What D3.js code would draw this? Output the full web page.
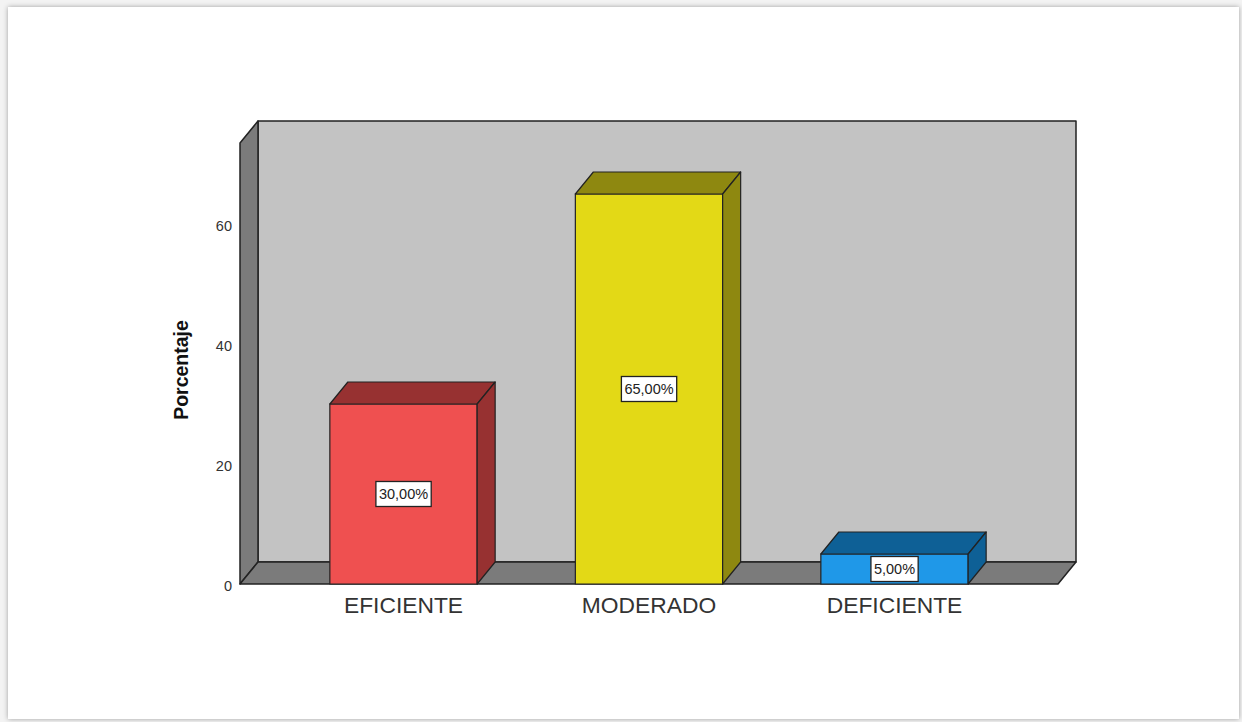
<!DOCTYPE html>
<html>
<head>
<meta charset="utf-8">
<script src="https://cdn.jsdelivr.net/npm/d3@7"></script>
<style>
  body { margin: 0; background: #f3f3f3; }
  svg { display: block; font-family: "Liberation Sans", Arial, sans-serif; }
</style>
</head>
<body>
<svg id="chart" width="1242" height="722"></svg>
<script>
// data
const categories = ["EFICIENTE", "MODERADO", "DEFICIENTE"];
const percentages = [30, 65, 5];
const valueLabels = ["30,00%", "65,00%", "5,00%"];
const yTicks = [0, 20, 40, 60];
const frontColors = ["#ef5050", "#e3d916", "#1f98e8"];
const shadeColors = ["#973131", "#8e8810", "#0e6096"];

const svg = d3.select("#chart");

// card with soft shadow
const defs = svg.append("defs");
const f = defs.append("filter").attr("id", "shadow")
    .attr("x", "-5%").attr("y", "-5%").attr("width", "110%").attr("height", "110%");
f.append("feDropShadow").attr("dx", 0).attr("dy", 0).attr("stdDeviation", 2.5)
    .attr("flood-color", "#000").attr("flood-opacity", 0.35);

svg.append("rect")
    .attr("x", 8).attr("y", 7).attr("width", 1231).attr("height", 712)
    .attr("fill", "#fff")
    .attr("filter", "url(#shadow)");

// geometry
const depthX = 18, depthY = 22;
const floorLeft = 240, floorRight = 1058;

const y = d3.scaleLinear().domain([0, 73.5]).range([584, 143]);
const x = d3.scaleBand()
    .domain(categories)
    .range([280.75, 1017.25])
    .paddingInner(0.4)
    .paddingOuter(0.2);

const edge = "#222";
const wallFill = "#c3c3c3";
const sideFill = "#7b7b7b";

const poly = pts => "M" + pts.map(p => p.join(",")).join("L") + "Z";

const y0 = y(0), yTop = y(73.5);

// back wall
svg.append("path")
    .attr("d", poly([[floorLeft + depthX, yTop - depthY], [floorRight + depthX, yTop - depthY],
                     [floorRight + depthX, y0 - depthY], [floorLeft + depthX, y0 - depthY]]))
    .attr("fill", wallFill).attr("stroke", edge).attr("stroke-width", 1.5)
    .attr("stroke-linejoin", "round");

// left side wall
svg.append("path")
    .attr("d", poly([[floorLeft, yTop], [floorLeft + depthX, yTop - depthY],
                     [floorLeft + depthX, y0 - depthY], [floorLeft, y0]]))
    .attr("fill", sideFill).attr("stroke", edge).attr("stroke-width", 1.5)
    .attr("stroke-linejoin", "round");

// floor
svg.append("path")
    .attr("d", poly([[floorLeft, y0], [floorLeft + depthX, y0 - depthY],
                     [floorRight + depthX, y0 - depthY], [floorRight, y0]]))
    .attr("fill", sideFill).attr("stroke", edge).attr("stroke-width", 1.5)
    .attr("stroke-linejoin", "round");

// y ticks
svg.append("g").selectAll("text")
    .data(yTicks)
    .join("text")
    .attr("x", 232)
    .attr("y", d => y(d) + 3)
    .attr("text-anchor", "end")
    .attr("dominant-baseline", "middle")
    .attr("font-size", 14.5)
    .attr("fill", "#333")
    .text(d => d);

// y label
svg.append("text")
    .attr("transform", "translate(188,370) rotate(-90)")
    .attr("text-anchor", "middle")
    .attr("font-size", 19.5)
    .attr("font-weight", "bold")
    .attr("fill", "#111")
    .text("Porcentaje");

// bars
const bars = svg.append("g").selectAll("g")
    .data(categories.map((c, i) => ({ c, v: percentages[i], label: valueLabels[i], i })))
    .join("g");

bars.each(function(d) {
    const g = d3.select(this);
    const x0 = x(d.c), x1 = x(d.c) + x.bandwidth();
    const yv = y(d.v);
    // front face
    g.append("path")
        .attr("d", poly([[x0, yv], [x1, yv], [x1, y0], [x0, y0]]))
        .attr("fill", frontColors[d.i]).attr("stroke", edge).attr("stroke-width", 1.2);
    // top face
    g.append("path")
        .attr("d", poly([[x0, yv], [x0 + depthX, yv - depthY], [x1 + depthX, yv - depthY], [x1, yv]]))
        .attr("fill", shadeColors[d.i]).attr("stroke", edge).attr("stroke-width", 1.2)
        .attr("stroke-linejoin", "round");
    // right side face
    g.append("path")
        .attr("d", poly([[x1, yv], [x1 + depthX, yv - depthY], [x1 + depthX, y0 - depthY], [x1, y0]]))
        .attr("fill", shadeColors[d.i]).attr("stroke", edge).attr("stroke-width", 1.2)
        .attr("stroke-linejoin", "round");

    // value label box
    const cx = x0 + x.bandwidth() / 2;
    const cy = (yv + y0) / 2;
    const t = g.append("text")
        .attr("x", cx).attr("y", cy + 1)
        .attr("text-anchor", "middle")
        .attr("dominant-baseline", "middle")
        .attr("font-size", 14.5)
        .attr("fill", "#222")
        .text(d.label);
    const bb = t.node().getBBox();
    g.insert("rect", "text")
        .attr("x", bb.x - 3).attr("y", cy - 12.5)
        .attr("width", bb.width + 6).attr("height", 25)
        .attr("fill", "#fff").attr("stroke", "#222").attr("stroke-width", 1.3);
});

// category labels
svg.append("g").selectAll("text")
    .data(categories)
    .join("text")
    .attr("x", d => x(d) + x.bandwidth() / 2)
    .attr("y", 613)
    .attr("text-anchor", "middle")
    .attr("font-size", 22.8)
    .attr("fill", "#333")
    .text(d => d);
</script>
</body>
</html>
